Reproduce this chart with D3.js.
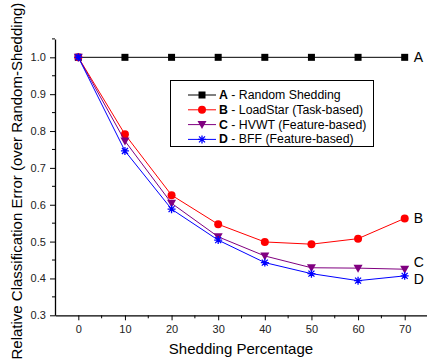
<!DOCTYPE html>
<html><head><meta charset="utf-8">
<script src="https://cdn.jsdelivr.net/npm/d3@7"></script>
<style>body{margin:0;background:#fff}svg{display:block}text{font-family:"Liberation Sans",Arial,sans-serif}</style>
</head><body><svg id="c" width="427" height="360"></svg>
<script>
const shedding = [0, 10, 20, 30, 40, 50, 60, 70];
const seriesA = [1.0, 1.0, 1.0, 1.0, 1.0, 1.0, 1.0, 1.0];
const seriesB = [1.0, 0.791, 0.626, 0.547, 0.499, 0.493, 0.508, 0.563];
const seriesC = [1.0, 0.773, 0.604, 0.513, 0.461, 0.429, 0.428, 0.425];
const seriesD = [1.0, 0.746, 0.588, 0.504, 0.443, 0.413, 0.394, 0.407];
const seriesNames = ["Random Shedding", "LoadStar (Task-based)", "HVWT (Feature-based)", "BFF (Feature-based)"];
const seriesKeys = ["A", "B", "C", "D"];
const xTicks = [0, 10, 20, 30, 40, 50, 60, 70];
const yTicks = [0.3, 0.4, 0.5, 0.6, 0.7, 0.8, 0.9, 1.0];

const colors = ["#000000", "#ff0000", "#800080", "#0000ff"];
const symbols = ["square", "circle", "tri", "star"];
const allSeries = [seriesA, seriesB, seriesC, seriesD];

const svg = d3.select("#c");
const x = d3.scaleLinear().domain([-5, 75]).range([55, 428]);
const y = d3.scaleLinear().domain([0.3, 1.05]).range([315.3, 38.9]);

// axes
const xAxis = d3.axisBottom(x).tickValues(xTicks).tickFormat(d3.format("d")).tickSize(5).tickSizeOuter(0);
const gx = svg.append("g").attr("transform", `translate(0,${y(0.3)})`).call(xAxis);
gx.select(".domain").attr("stroke-width", 1.3);
gx.selectAll("text").attr("font-size", 11).attr("fill", "#222").attr("dy", "0.9em");
const xMinor = [5, 15, 25, 35, 45, 55, 65, 75];
gx.selectAll(".minor").data(xMinor).enter().append("line")
  .attr("x1", d => x(d)).attr("x2", d => x(d)).attr("y1", 0).attr("y2", 3).attr("stroke", "#000");

const yAxis = d3.axisLeft(y).tickValues(yTicks).tickFormat(d3.format(".1f")).tickSize(5).tickSizeOuter(0);
const gy = svg.append("g").attr("transform", `translate(${x(-5)},0)`).call(yAxis);
gy.select(".domain").attr("stroke-width", 1.3);
gy.selectAll("text").attr("font-size", 11).attr("fill", "#222").attr("dx", "-0.1em");
const yMinor = [0.35, 0.45, 0.55, 0.65, 0.75, 0.85, 0.95, 1.05];
gy.selectAll(".minor").data(yMinor).enter().append("line")
  .attr("x1", 0).attr("x2", -3).attr("y1", d => y(d)).attr("y2", d => y(d)).attr("stroke", "#000");

// titles
svg.append("text").attr("x", 241).attr("y", 354).attr("text-anchor", "middle")
  .attr("font-size", 15).text("Shedding Percentage");
svg.append("text").attr("transform", `translate(22,${(y(0.3) + y(1.05)) / 2 + 4}) rotate(-90)`)
  .attr("text-anchor", "middle").attr("font-size", 15)
  .text("Relative Classification Error (over Random-Shedding)");

function drawSymbol(g, type, color, cx, cy) {
  if (type === "square") {
    g.append("rect").attr("x", cx - 3.5).attr("y", cy - 3.5).attr("width", 7).attr("height", 7).attr("fill", color);
  } else if (type === "circle") {
    g.append("circle").attr("cx", cx).attr("cy", cy).attr("r", 4).attr("fill", color);
  } else if (type === "tri") {
    g.append("path").attr("d", `M${cx - 4.5},${cy - 3.5}L${cx + 4.5},${cy - 3.5}L${cx},${cy + 4.5}Z`).attr("fill", color);
  } else {
    const r = 4;
    const p = [[0, -r], [0, r], [-r, 0], [r, 0], [-r * 0.75, -r * 0.75], [r * 0.75, r * 0.75], [-r * 0.75, r * 0.75], [r * 0.75, -r * 0.75]];
    let d = "";
    for (let i = 0; i < p.length; i += 2) d += `M${cx + p[i][0]},${cy + p[i][1]}L${cx + p[i + 1][0]},${cy + p[i + 1][1]}`;
    g.append("path").attr("d", d).attr("stroke", color).attr("stroke-width", 1.3).attr("fill", "none");
  }
}

const line = d3.line().x((d, i) => x(shedding[i])).y(d => y(d));
allSeries.forEach((s, k) => {
  const g = svg.append("g");
  g.append("path").datum(s).attr("d", line).attr("fill", "none").attr("stroke", colors[k]).attr("stroke-width", 1);
  s.forEach((v, i) => drawSymbol(g, symbols[k], colors[k], x(shedding[i]), y(v)));
});

// end labels
const endLabelDy = [0, 0, -7, 3];
seriesKeys.forEach((k, i) => {
  svg.append("text").attr("x", x(70) + 9).attr("y", y(allSeries[i][7]) + endLabelDy[i])
    .attr("dominant-baseline", "central").attr("font-size", 14).text(k);
});

// legend
const lg = svg.append("g");
lg.append("rect").attr("x", 170.5).attr("y", 80.5).attr("width", 203).attr("height", 66)
  .attr("fill", "#fff").attr("stroke", "#000").attr("stroke-width", 1);
seriesKeys.forEach((k, i) => {
  const cy = 95 + i * 14.8;
  lg.append("line").attr("x1", 188).attr("x2", 216).attr("y1", cy).attr("y2", cy).attr("stroke", colors[i]).attr("stroke-width", 1);
  drawSymbol(lg, symbols[i], colors[i], 202, cy);
  const t = lg.append("text").attr("x", 219).attr("y", cy).attr("dominant-baseline", "central").attr("font-size", 12.3);
  t.append("tspan").attr("font-weight", "bold").text(k);
  t.append("tspan").text(" - " + seriesNames[i]);
});
</script></body></html>
